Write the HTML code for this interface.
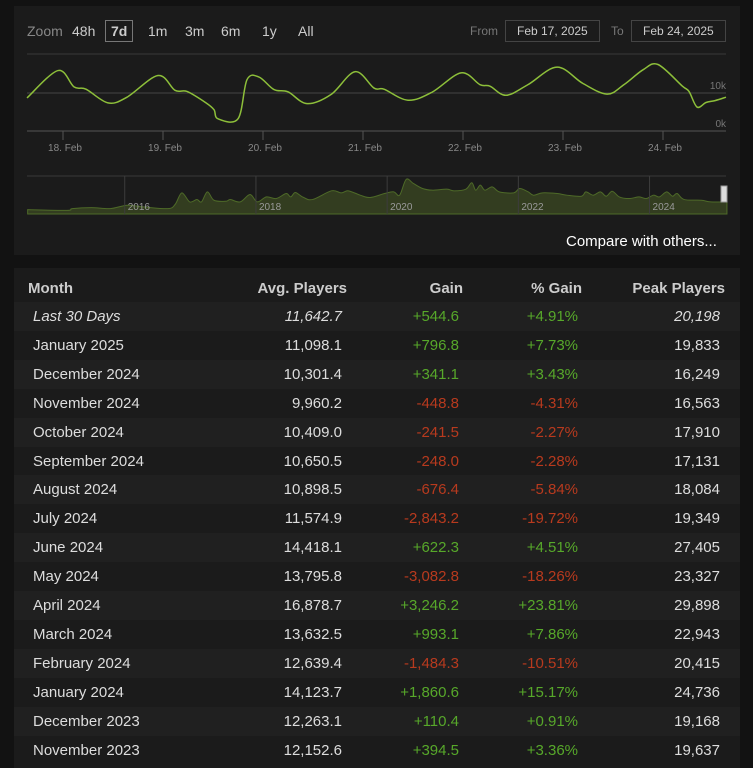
<!DOCTYPE html>
<html><head><meta charset="utf-8">
<style>
body{margin:0;width:753px;height:763px;background:#121212;font-family:"Liberation Sans",Arial,sans-serif;overflow:hidden;position:relative}
#chartpanel{position:absolute;left:14px;top:6px;width:726px;height:249px;background:#1b1b1b}
.z{position:absolute;top:23px;font-size:14px;color:#ccc}
.tbl{position:absolute;left:14px;top:268px;width:726px;height:500px;background:#1b1b1b}
.row{position:absolute;left:0;width:726px;height:29px;font-size:15px;color:#ddd}
.row span{position:absolute;top:6px;white-space:nowrap}
.hdr{font-weight:bold;color:#ccc}
.g{color:#57a82a}.r{color:#b83a1e}
</style></head><body>
<div id="chartpanel"></div>
<span class="z" style="left:27px;color:#888">Zoom</span>
<span class="z" style="left:72px">48h</span>
<span class="z" style="left:105px;top:20px;border:1px solid #777;padding:2px 5px;font-weight:bold">7d</span>
<span class="z" style="left:148px">1m</span>
<span class="z" style="left:185px">3m</span>
<span class="z" style="left:221px">6m</span>
<span class="z" style="left:262px">1y</span>
<span class="z" style="left:298px">All</span>
<span class="z" style="left:470px;font-size:12px;top:24px;color:#777">From</span>
<span class="z" style="left:505px;top:20px;font-size:12px;border:1px solid #444;padding:3px 11px">Feb 17, 2025</span>
<span class="z" style="left:611px;font-size:12px;top:24px;color:#777">To</span>
<span class="z" style="left:631px;top:20px;font-size:12px;border:1px solid #444;padding:3px 11px">Feb 24, 2025</span>
<svg id="chart" width="753" height="260" style="position:absolute;left:0;top:0"></svg>
<span style="position:absolute;left:566px;top:233px;color:#fff;font-size:15px">Compare with others...</span>
<div class="tbl" id="tbl"></div>
<script>
const NS="http://www.w3.org/2000/svg";
const times=[17.64,17.95,18.11,18.23,18.45,18.64,18.95,19.12,19.24,19.43,19.51,19.55,19.75,19.84,19.96,20.11,20.25,20.44,20.68,20.92,21.11,21.21,21.45,21.69,21.98,22.17,22.27,22.43,22.65,22.94,23.20,23.44,23.61,23.80,23.95,24.19,24.26,24.34,24.43,24.52,24.63];
const players=[8.7,15.9,11.6,11.0,7.4,8.9,14.6,10.7,10.4,7.4,5.6,3.2,3.2,13.5,14.2,10.9,10.3,7.2,9.6,15.6,11.3,11.0,8.1,10.2,15.3,12.2,11.8,9.4,12.2,16.8,12.5,9.7,12.2,16.1,17.5,11.9,10.4,6.3,7.5,8.0,8.9];
const dayTicks=[18,19,20,21,22,23,24];
const dayLabels=["18. Feb","19. Feb","20. Feb","21. Feb","22. Feb","23. Feb","24. Feb"];
const yTicks=[0,10];
const yLabels=["0k","10k"];
const navYears=[2014.52,2015.12,2015.20,2015.49,2015.78,2016.04,2016.30,2016.66,2016.77,2016.87,2016.99,2017.10,2017.17,2017.26,2017.36,2017.54,2017.61,2017.76,2017.91,2018.02,2018.16,2018.31,2018.46,2018.53,2018.60,2018.71,2018.86,2019.15,2019.30,2019.41,2019.59,2019.74,2019.96,2020.10,2020.19,2020.29,2020.40,2020.54,2020.69,2020.91,2021.02,2021.20,2021.29,2021.35,2021.42,2021.49,2021.60,2021.71,2021.93,2022.02,2022.15,2022.23,2022.37,2022.59,2022.74,2022.96,2023.03,2023.14,2023.25,2023.34,2023.43,2023.54,2023.69,2023.84,2023.95,2024.06,2024.15,2024.26,2024.35,2024.42,2024.53,2024.79,2024.93,2025.18];
const navValues=[6.9,5.8,8.5,10.1,8.5,13.8,11.1,8.5,15.4,33.4,19.1,22.8,19.1,35,21.7,20.1,22.8,19.1,30.7,19.1,27,24.4,32.3,27,33.9,27,22.8,36.6,33.4,36.6,29.7,26,32.3,35,29.7,54.6,48.2,40.3,37.6,39.2,36.6,39.2,49.3,37.6,45.6,37.6,42.9,35,33.4,40.3,35,29.7,33.4,32.3,29.7,28.1,35,29.7,35,28.1,36,27,24.4,27,24.4,29.7,27,35,28.1,32.3,22.8,21.7,19.1,19.1];
const navTicks=[2016,2018,2020,2022,2024];
const svg=document.getElementById('chart');
function mk(t,a,txt){const e=document.createElementNS(NS,t);for(const k in a)e.setAttribute(k,a[k]);if(txt)e.textContent=txt;svg.appendChild(e);return e;}
const X0=27,X1=726;
const xs=t=>X0+(t-17.64)*100;
const ys=v=>131-v*3.8;
function smooth(pts){let d=`M${pts[0][0]},${pts[0][1]}`;for(let i=0;i<pts.length-1;i++){const p0=pts[i-1]||pts[i],p1=pts[i],p2=pts[i+1],p3=pts[i+2]||p2;d+=`C${p1[0]+(p2[0]-p0[0])/6},${p1[1]+(p2[1]-p0[1])/6} ${p2[0]-(p3[0]-p1[0])/6},${p2[1]-(p3[1]-p1[1])/6} ${p2[0]},${p2[1]}`;}return d;}
let g=mk('line',{x1:X0,x2:X1,y1:54,y2:54,stroke:'#3a3a3a'});


yTicks.forEach((v,i)=>{const l=mk('line',{x1:X0,x2:X1,y1:ys(v),y2:ys(v),stroke:i==0?'#555':'#444'});


const t=mk('text',{x:X1,y:ys(v)-4,'text-anchor':'end','font-size':10,fill:'#777'},yLabels[i]);

});
dayTicks.forEach((d,i)=>{const l=mk('line',{x1:xs(d),x2:xs(d),y1:131,y2:140,stroke:'#555'});


const t=mk('text',{x:xs(d)+2,y:151,'text-anchor':'middle','font-size':10,fill:'#888'},dayLabels[i]);

});
const line=mk('path',{d:smooth(times.map((t,i)=>[xs(t),ys(players[i])])),fill:'none',stroke:'#8dbf3a','stroke-width':1.5});


// navigator
const nx=y=>X0+(y-2014.51)*65.6;
const ny=v=>214-v/60*38;
const nb=mk('line',{x1:X0,x2:X1,y1:176,y2:176,stroke:'#3a3a3a'});


const pts=navYears.map((y,i)=>[nx(y),ny(navValues[i])]);
const area=mk('path',{d:smooth(pts)+`L${pts[pts.length-1][0]},214L${pts[0][0]},214Z`,fill:'#333d20',stroke:'#4e6a28','stroke-width':1});


navTicks.forEach(y=>{const l=mk('line',{x1:nx(y),x2:nx(y),y1:176,y2:214,stroke:'#3d3d3d'});


const t=mk('text',{x:nx(y)+3,y:210,'font-size':10,fill:'#999'},String(y));

});
const h=mk('rect',{x:721,y:186,width:6,height:16,fill:'#ddd',stroke:'#999'});


// table
const months=["Last 30 Days","January 2025","December 2024","November 2024","October 2024","September 2024","August 2024","July 2024","June 2024","May 2024","April 2024","March 2024","February 2024","January 2024","December 2023","November 2023"];
const avg=["11,642.7","11,098.1","10,301.4","9,960.2","10,409.0","10,650.5","10,898.5","11,574.9","14,418.1","13,795.8","16,878.7","13,632.5","12,639.4","14,123.7","12,263.1","12,152.6"];
const gain=["+544.6","+796.8","+341.1","-448.8","-241.5","-248.0","-676.4","-2,843.2","+622.3","-3,082.8","+3,246.2","+993.1","-1,484.3","+1,860.6","+110.4","+394.5"];
const pct=["+4.91%","+7.73%","+3.43%","-4.31%","-2.27%","-2.28%","-5.84%","-19.72%","+4.51%","-18.26%","+23.81%","+7.86%","-10.51%","+15.17%","+0.91%","+3.36%"];
const peak=["20,198","19,833","16,249","16,563","17,910","17,131","18,084","19,349","27,405","23,327","29,898","22,943","20,415","24,736","19,168","19,637"];
const tbl=document.getElementById('tbl');
const hr=document.createElement('div');hr.className='row hdr';hr.style.top='6px';


hr.innerHTML='<span style="left:14px">Month</span><span style="right:393px">Avg. Players</span><span style="right:277px">Gain</span><span style="right:158px">% Gain</span><span style="right:15px">Peak Players</span>';
tbl.appendChild(hr);
months.forEach((m,i)=>{const r=document.createElement('div');r.className='row';r.style.top=(34+i*28.9)+'px';
r.style.background=i%2==0?'#202020':'#1b1b1b';


const c=gain[i][0]=='+'?'g':'r';const it=i==0?'font-style:italic;':'';
r.innerHTML=`<span style="left:19px;${it}">${m}</span><span style="right:398px;${it}">${avg[i]}</span><span class="${c}" style="right:281px">${gain[i]}</span><span class="${c}" style="right:162px">${pct[i]}</span><span style="right:20px;${it}">${peak[i]}</span>`;
tbl.appendChild(r);});
</script>
</body></html>
